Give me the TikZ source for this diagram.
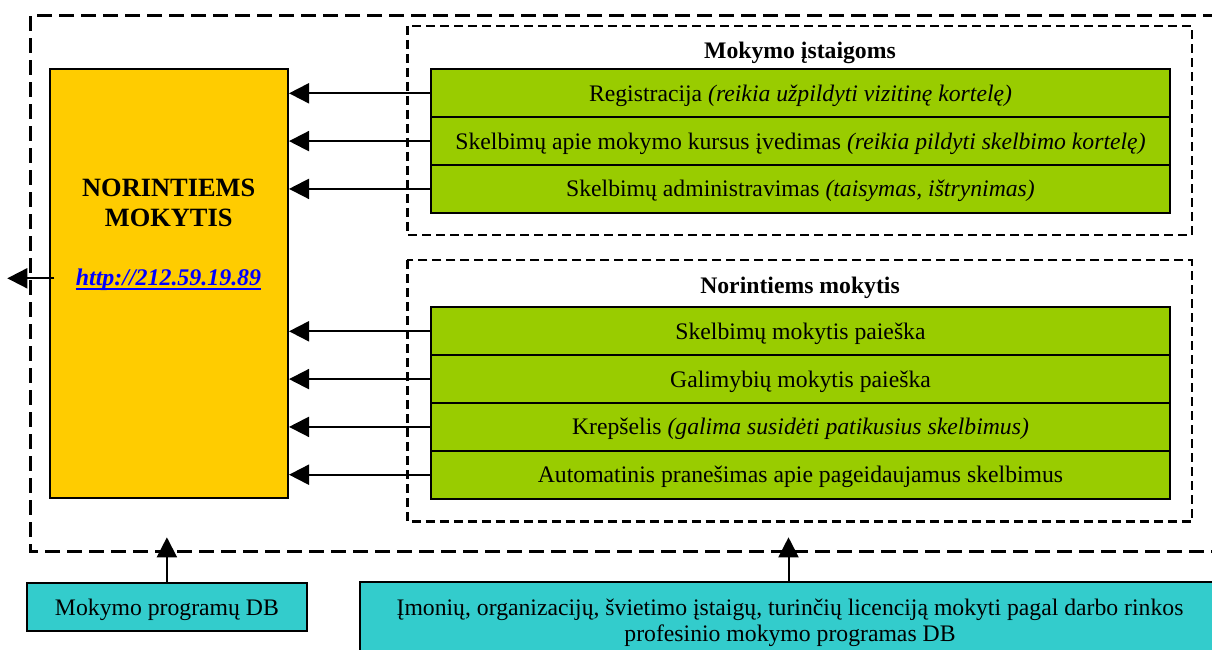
\documentclass[tikz,border=0pt]{standalone}
\usepackage{fontspec}
\setmainfont{Liberation Serif}
\usetikzlibrary{arrows.meta}
\definecolor{ybox}{HTML}{FFCC00}
\definecolor{gbox}{HTML}{99CC00}
\definecolor{cbox}{HTML}{33CCCC}
\definecolor{linkblue}{HTML}{0000FF}
\tikzset{
  outerdash/.style={line width=3.3pt, dash pattern=on 15pt off 7pt},
  innerdash/.style={line width=2.4pt, dash pattern=on 9pt off 5pt},
  rowbox/.style={draw, line width=2pt, fill=gbox, minimum width=739pt, minimum height=47.8pt, inner sep=0pt, text height=16pt, text depth=0pt, font=\fontsize{23.7}{27}\selectfont},
  dbbox/.style={draw, line width=2pt, fill=cbox, inner sep=0pt},
  ttl/.style={anchor=base, inner sep=0pt, font=\fontsize{23.7}{27}\selectfont\bfseries},
  arr/.style={line width=2pt, -{Triangle[length=20pt,width=20pt]}},
  txt/.style={inner sep=0pt, font=\fontsize{23.7}{27}\selectfont}
}
\begin{document}
\begin{tikzpicture}[x=1pt,y=-1pt]
\useasboundingbox (0,0) rectangle (1212,650);
\clip (0,0) rectangle (1212,650);
\fill[white] (0,0) rectangle (1212,650);
% outer dashed frame
\draw[outerdash] (1240,15.7) -- (30.7,15.7) -- (30.7,551.7) -- (1240,551.7);
% inner dashed frames
\draw[innerdash] (407.3,25.8) rectangle (1191.8,235);
\draw[innerdash] (407.3,260) rectangle (1191.8,521.5);
% main yellow box
\node[draw, line width=2pt, fill=ybox, minimum width=238pt, minimum height=428.7pt, inner sep=0pt] (main) at (169,283.7) {};
\node[anchor=base, inner sep=0pt, align=center, font=\fontsize{26.4}{30}\selectfont\bfseries] (mtitle) at (168.7,226.7) {NORINTIEMS\\MOKYTIS};
\node[anchor=base, inner sep=0pt, text=linkblue, font=\fontsize{23.9}{27}\selectfont\bfseries\itshape] (link) at (168.5,285) {http://212.59.19.89};
\draw[linkblue, line width=2.2pt] ([yshift=-3.8pt]link.base west) -- ([yshift=-3.8pt]link.base east);
% group titles
\node[ttl] (t1) at (800,58.3) {Mokymo įstaigoms};
\node[ttl] (t2) at (800,293.3) {Norintiems mokytis};
% group 1 rows
\node[rowbox] (r1) at (800.5,93.3) {Registracija \textit{(reikia užpildyti vizitinę kortelę)}};
\node[rowbox] (r2) at (800.5,141.1) {Skelbimų apie mokymo kursus įvedimas \textit{(reikia pildyti skelbimo kortelę)}};
\node[rowbox] (r3) at (800.5,188.9) {Skelbimų administravimas \textit{(taisymas, ištrynimas)}};
% group 2 rows
\node[rowbox] (s1) at (800.5,331.3) {Skelbimų mokytis paieška};
\node[rowbox] (s2) at (800.5,379.1) {Galimybių mokytis paieška};
\node[rowbox] (s3) at (800.5,426.9) {Krepšelis \textit{(galima susidėti patikusius skelbimus)}};
\node[rowbox] (s4) at (800.5,474.7) {Automatinis pranešimas apie pageidaujamus skelbimus};
% arrows into main box
\foreach \r in {r1,r2,r3,s1,s2,s3,s4}{
  \draw[arr] (\r.west) -- (main.east |- \r.west);
}
% outgoing arrow on left
\coordinate (lstart) at (54.3,278.3);
\coordinate (lend) at (7.3,278.3);
\draw[arr] (lstart) -- (lend);
% bottom DB boxes
\node[dbbox, minimum width=279.8pt, minimum height=47.7pt, text height=16pt, text depth=0pt, font=\fontsize{23.7}{27}\selectfont] (db1) at (166.9,607.2) {Mokymo programų DB};
\node[dbbox, minimum width=860pt, minimum height=100pt] (db2) at (790,632.3) {};
\node[txt, anchor=base, align=center, font=\fontsize{23.7}{26.7}\selectfont] (db2t) at (790,641.7) {Įmonių, organizacijų, švietimo įstaigų, turinčių licenciją mokyti pagal darbo rinkos\\profesinio mokymo programas DB};
\coordinate (up1) at (db1.north |- 0,537.3);
\coordinate (up2) at (788.5,537.3);
\draw[arr] (db1.north) -- (up1);
\draw[arr] (db2.north -| up2) -- (up2);
\end{tikzpicture}
\end{document}
